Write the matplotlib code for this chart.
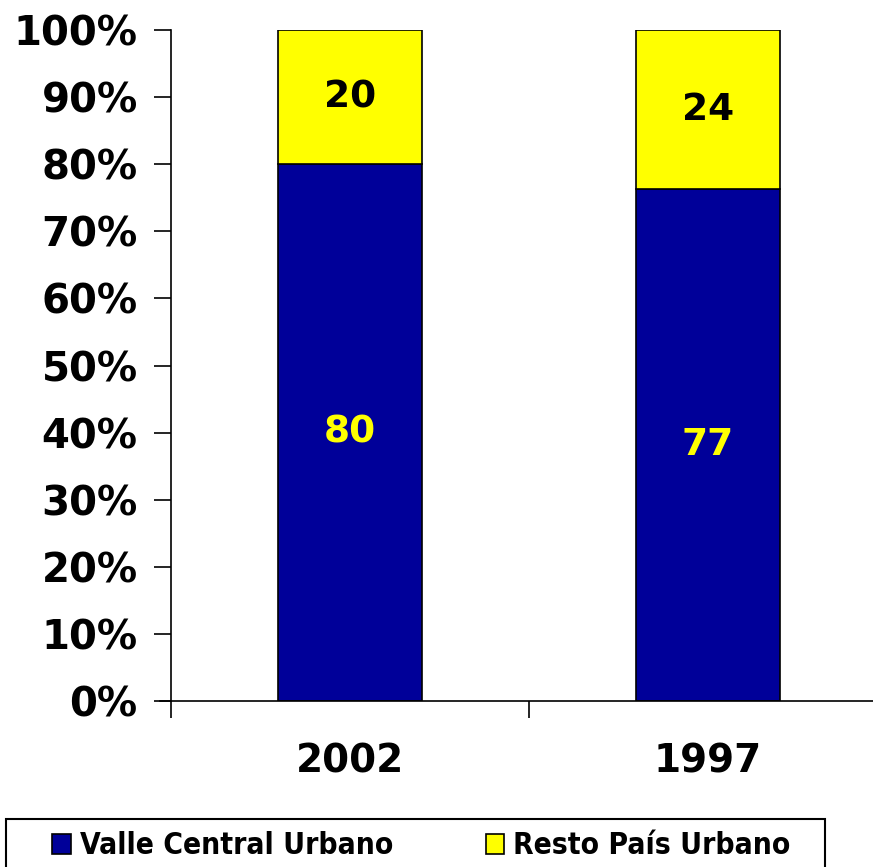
import numpy as np
import matplotlib.pyplot as plt
from matplotlib.patches import Rectangle

years = ['2002', '1997']
valle = np.array([80, 77])
resto = np.array([20, 24])
series_names = ['Valle Central Urbano', 'Resto País Urbano']
yticks = np.arange(0, 101, 10)

blue = '#000099'
yellow = '#ffff00'

total = valle + resto
valle_pct = valle / total * 100
resto_pct = resto / total * 100

fig = plt.figure(figsize=(8.73, 8.67), dpi=100)
ax = fig.add_axes([171 / 873, 166 / 867, 716 / 873, 671 / 867])

x = np.arange(len(years))
b1 = ax.bar(x, valle_pct, width=0.4, color=blue, edgecolor='black', linewidth=1.2,
            label=series_names[0])
b2 = ax.bar(x, resto_pct, width=0.4, bottom=valle_pct, color=yellow, edgecolor='black',
            linewidth=1.2, label=series_names[1])

for i in range(len(years)):
    ax.text(x[i], valle_pct[i] / 2, f"{valle[i]}", ha='center', va='center',
            color=yellow, fontsize=27, fontweight='bold')
    ax.text(x[i], valle_pct[i] + resto_pct[i] / 2, f"{resto[i]}", ha='center', va='center',
            color='black', fontsize=27, fontweight='bold')

ax.set_xlim(-0.5, 1.5)
ax.set_ylim(0, 100)
ax.set_yticks(yticks)
ax.set_yticklabels([f"{t}%" for t in yticks], fontsize=29, fontweight='bold')
ax.set_xticks(x)
ax.set_xticklabels(years, fontsize=28, fontweight='bold')
ax.set_xticks([-0.5, 0.5, 1.5], minor=True)
ax.tick_params(axis='x', which='major', length=0, pad=30)
ax.tick_params(axis='x', which='minor', length=12, width=1.2, direction='out')
ax.tick_params(axis='y', length=12, width=1.2, direction='out', pad=12)
ax.spines['top'].set_visible(False)
ax.spines['right'].set_visible(False)
for s in ['left', 'bottom']:
    ax.spines[s].set_linewidth(1.2)
ax.spines['bottom'].set_bounds(-0.53, 1.5)

# legend box drawn by hand so the padding matches
fig.patches.append(Rectangle((6 / 873, -10 / 867), 819 / 873, 58 / 867,
                             transform=fig.transFigure, fill=False,
                             edgecolor='black', linewidth=1.5))
leg = fig.legend(handles=[b1, b2], loc='center left',
                 bbox_to_anchor=(52 / 873, (867 - 846) / 867),
                 ncol=2, frameon=False,
                 prop={'family': 'DejaVu Sans', 'stretch': 'condensed', 'weight': 'bold', 'size': 21.5},
                 handlelength=0.63, handleheight=0.63, handletextpad=0.3, columnspacing=3.1,
                 borderpad=0, borderaxespad=0)

fig.savefig('out.png', dpi=100)
